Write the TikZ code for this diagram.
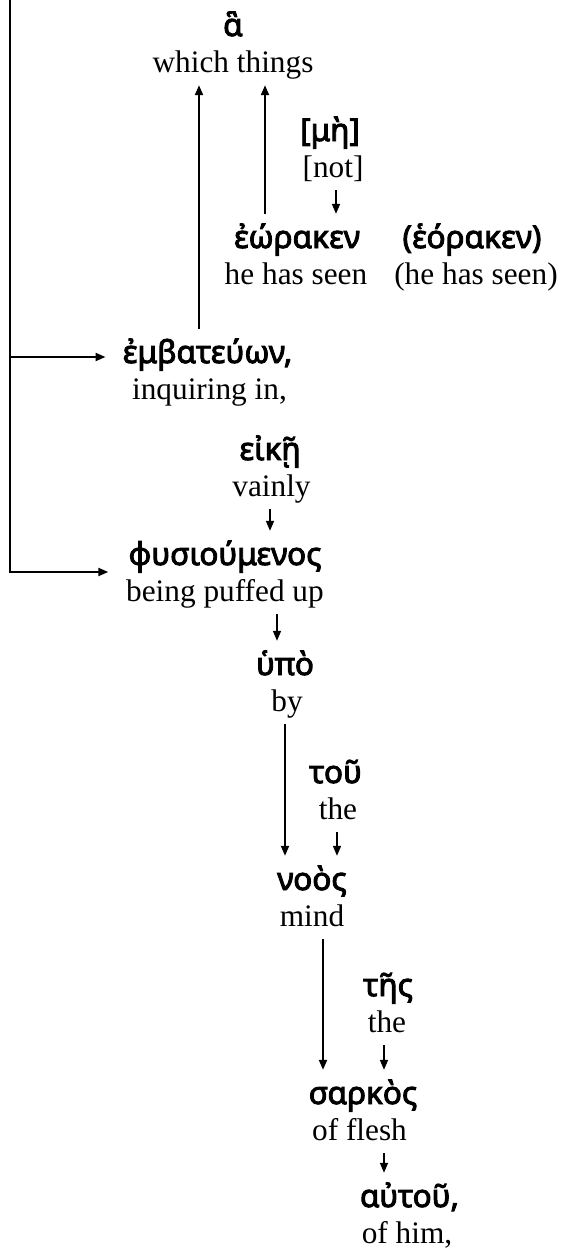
\documentclass[tikz,border=0pt]{standalone}
\usepackage{fontspec}
\setmainfont{Liberation Serif}
\newfontfamily\greekfont{Noto Sans}[FakeBold=3]
\usetikzlibrary{arrows.meta}
\tikzset{>={Triangle[length=10pt,width=8pt]}}

\begin{document}
\begin{tikzpicture}[x=1pt, y=-1pt,
	gk/.style={font={\greekfont\fontsize{31.5}{34}\selectfont}, anchor=base, inner sep=0pt, text height=34pt, text depth=2pt},
	en/.style={font={\fontsize{31.3}{36}\selectfont}, anchor=base, inner sep=0pt, text height=24pt, text depth=13pt},
	arr/.style={->, line width=2pt},
	tip/.style={->, line width=1.6pt}]
		\useasboundingbox (0,0) rectangle (563,1253);
		
		%words and glosses
		\foreach \n/\x/\ex/\y/\g/\e in {ha/233/233/36/{ἃ}/{which things},
			me/330/333/141/{[μὴ]}/{[not]},
			heorak/297/296/248/{ἐώρακεν}/{he has seen},
			heoralt/472/476/248/{(ἑόρακεν)}/{(he has seen)},
			emb/207.5/209.5/363/{ἐμβατεύων,}/{inquiring in,},
			eike/270/271.5/460/{εἰκῇ}/{vainly},
			phys/225/225/565/{φυσιούμενος}/{being puffed up},
			hypo/285/287/675/{ὑπὸ}/{by},
			tou/335.5/338/783/{τοῦ}/{the},
			noos/312/312/890/{νοὸς}/{mind},
			tes/388/387/996/{τῆς}/{the},
			sark/363/359.5/1104/{σαρκὸς}/{of flesh},
			autou/409.5/407/1207/{αὐτοῦ,}/{of him,}}
		{
			\node [gk] (\n) at (\x,\y) {\g};
			\node [en] (\n-en) at (\ex,\y+36) {\e};
		}
		
		%up to ha
		\draw [arr] ([xshift=-8.5pt]emb.north) -- ([xshift=-34pt]ha-en.south);
		\draw [arr] ([xshift=-32pt]heorak.north) -- ([xshift=32pt]ha-en.south);
		\draw [tip] ([xshift=3pt]me-en.south) -- ([xshift=39pt]heorak.north);
		
		%left bracket
		\coordinate (top) at (10,0);
		\coordinate (embin) at ([xshift=-17pt, yshift=6pt]emb.base west);
		\coordinate (physin) at ([xshift=-20pt, yshift=-7pt]phys.base west);
		\draw [arr] (top |- embin) -- (embin);
		\draw [arr] (top) |- (physin);
		
		%down the chain
		\draw [tip] ([xshift=-1.5pt]eike-en.south) -- ([xshift=45pt]phys.north);
		\draw [tip] ([xshift=52pt]phys-en.south) -- ([xshift=-8pt]hypo.north);
		\draw [arr] ([xshift=-2pt]hypo-en.south) -- ([xshift=-27pt]noos.north);
		\draw [tip] ([xshift=-1pt]tou-en.south) -- ([xshift=25pt]noos.north);
		\draw [arr] ([xshift=11pt]noos-en.south) -- ([xshift=-40pt]sark.north);
		\draw [tip] ([xshift=-3pt]tes-en.south) -- ([xshift=21pt]sark.north);
		\draw [tip] ([xshift=24.5pt]sark-en.south) -- ([xshift=-25.5pt]autou.north);
		
\end{tikzpicture}
\end{document}
